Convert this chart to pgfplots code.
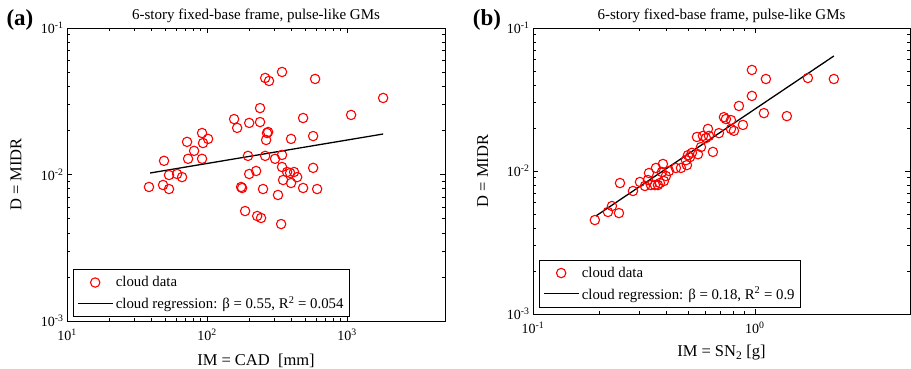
\documentclass[border=0pt]{standalone}
\usepackage{pgfplots}
\pgfplotsset{compat=1.18}
\usepackage{fontspec}
\setmainfont{Liberation Serif}
\newcommand{\lgf}{\fontsize{14.8}{17}\selectfont}
\begin{document}
\begin{tikzpicture}
\useasboundingbox (0,0) rectangle (911pt,368pt);
\pgfplotsset{
  myax/.style={
    scale only axis,
    anchor=south west,
    ymin=0.001, ymax=0.1,
    ytick={0.001,0.01,0.1},
    yticklabels={10\textsuperscript{-3},10\textsuperscript{-2},10\textsuperscript{-1}},
    tick align=inside,
    major tick length=5pt, minor tick length=3pt,
    axis line style={line width=1pt},
    every tick/.style={black, line width=0.6pt},
    tick label style={font=\fontsize{14}{16}\selectfont},
    xticklabel style={yshift=-4pt},
    label style={font=\fontsize{16.5}{18}\selectfont},
    title style={font=\fontsize{15}{17}\selectfont, at={(0.5,1)}, anchor=south, yshift=-4.5pt},
    ylabel style={at={(axis description cs:-0.135,0.5)}, anchor=center},
    xlabel style={at={(axis description cs:0.5,-0.135)}, anchor=center},
    legend style={font=\lgf, draw=black, line width=1pt,
      anchor=south west, inner xsep=4pt, inner ysep=5pt, row sep=4pt,
      /tikz/every even column/.append style={column sep=2pt}},
    legend cell align=left,
  },
  cloudstyle/.style={only marks, mark=o, mark size=4.7pt, red, mark options={line width=1.1pt},
    legend image code/.code={\draw[##1] plot coordinates {(17pt,0pt)};}},
  regstyle/.style={black, line width=1.3pt,
    legend image code/.code={\draw[##1] (0pt,0pt) -- (35pt,0pt);}},
}
\begin{loglogaxis}[myax, at={(67pt,47pt)}, width=378pt, height=293pt,
  xmin=10, xmax=5000,
  xtick={10,100,1000},
  xticklabels={10\textsuperscript{1},10\textsuperscript{2},10\textsuperscript{3}},
  title={6-story fixed-base frame, pulse-like GMs},
  xlabel={IM = CAD\ \ [mm]}, ylabel={D = MIDR},
  legend style={at={(0.016,0.012)}},
]
\addplot[cloudstyle] coordinates {
(38.5,0.00822) (48.5,0.00848) (49.3,0.0124) (53.5,0.00992) (53.5,0.00796)
(61.1,0.01008) (66.3,0.0096) (72.0,0.0167) (73.2,0.0128) (80.8,0.0145)
(92.1,0.0192) (92.1,0.0128) (93.6,0.0164) (101.7,0.0175) (156,0.0239)
(164,0.0208) (175,0.00822) (178,0.00809) (187,0.00563) (196,0.0134)
(200,0.0225) (200,0.01008) (224,0.01057) (228,0.00521) (239,0.0284)
(239,0.0228) (243,0.00505) (251,0.00796) (260,0.0134) (260,0.0456)
(268,0.0192) (273,0.0195) (264,0.0172) (277,0.0435) (306,0.0128)
(321,0.00725) (338,0.00459) (343,0.0501) (343,0.0136) (343,0.01125)
(349,0.00917) (373,0.0104) (392,0.01024) (398,0.0175) (398,0.00875)
(418,0.0104) (440,0.0096) (485,0.0243) (485,0.00809) (572,0.0183)
(572,0.0111) (591,0.0449) (611,0.00796) (1068,0.0255) (1808,0.0333)
};
\addlegendentry{\lgf cloud data}
\addplot[regstyle] coordinates {(39.2,0.01024) (1808,0.0189)};
\addlegendentry{\lgf cloud regression: β = 0.55, R\textsuperscript{2} = 0.054}
\end{loglogaxis}
\begin{loglogaxis}[myax, at={(533pt,54pt)}, width=377pt, height=286pt,
  xmin=0.1, xmax=5,
  xtick={0.1,1},
  xticklabels={10\textsuperscript{-1},10\textsuperscript{0}},
  title={6-story fixed-base frame, pulse-like GMs},
  xlabel={IM = SN\textsubscript{2} [g]}, ylabel={D = MIDR},
  ylabel style={at={(axis description cs:-0.133,0.5)}},
  xlabel style={at={(axis description cs:0.5,-0.136)}},
  legend style={at={(0.016,0.021)}},
]
\addplot[cloudstyle] coordinates {
(0.190,0.00454) (0.2177,0.00517) (0.2269,0.00569) (0.2440,0.00508) (0.2466,0.00824)
(0.2822,0.00725) (0.3034,0.00838) (0.3195,0.00786) (0.3331,0.00968) (0.3401,0.00798)
(0.3544,0.00798) (0.3656,0.00798) (0.3733,0.00824) (0.3581,0.0105) (0.3851,0.0112)
(0.3811,0.00984) (0.3891,0.00851) (0.3973,0.00923) (0.4098,0.0100) (0.4642,0.0105)
(0.4940,0.0110) (0.4992,0.0129) (0.5203,0.0134) (0.5481,0.0173) (0.5538,0.0131)
(0.5714,0.0147) (0.5834,0.0176) (0.6018,0.0170) (0.6208,0.0176) (0.6144,0.0197)
(0.6469,0.0136) (0.6884,0.0184) (0.7252,0.0238) (0.7404,0.0231) (0.7801,0.0227)
(0.7801,0.0197) (0.8047,0.0191) (0.8473,0.0285) (0.8832,0.0210) (0.9694,0.0509)
(0.9694,0.0335) (1.098,0.0254) (1.121,0.0440) (1.393,0.0242) (1.733,0.0447)
(2.269,0.0440) (0.4406,0.0105) (0.4889,0.0119) (0.5096,0.0125) (0.3296,0.00865)
};
\addlegendentry{\lgf cloud data}
\addplot[regstyle] coordinates {(0.1922,0.00485) (2.269,0.0637)};
\addlegendentry{\lgf cloud regression: β = 0.18, R\textsuperscript{2} = 0.9}
\end{loglogaxis}
\node[font=\bfseries\fontsize{23}{25}\selectfont, anchor=center] at (20pt,348pt) {(a)};
\node[font=\bfseries\fontsize{23}{25}\selectfont, anchor=center] at (487pt,348pt) {(b)};
\end{tikzpicture}
\end{document}
